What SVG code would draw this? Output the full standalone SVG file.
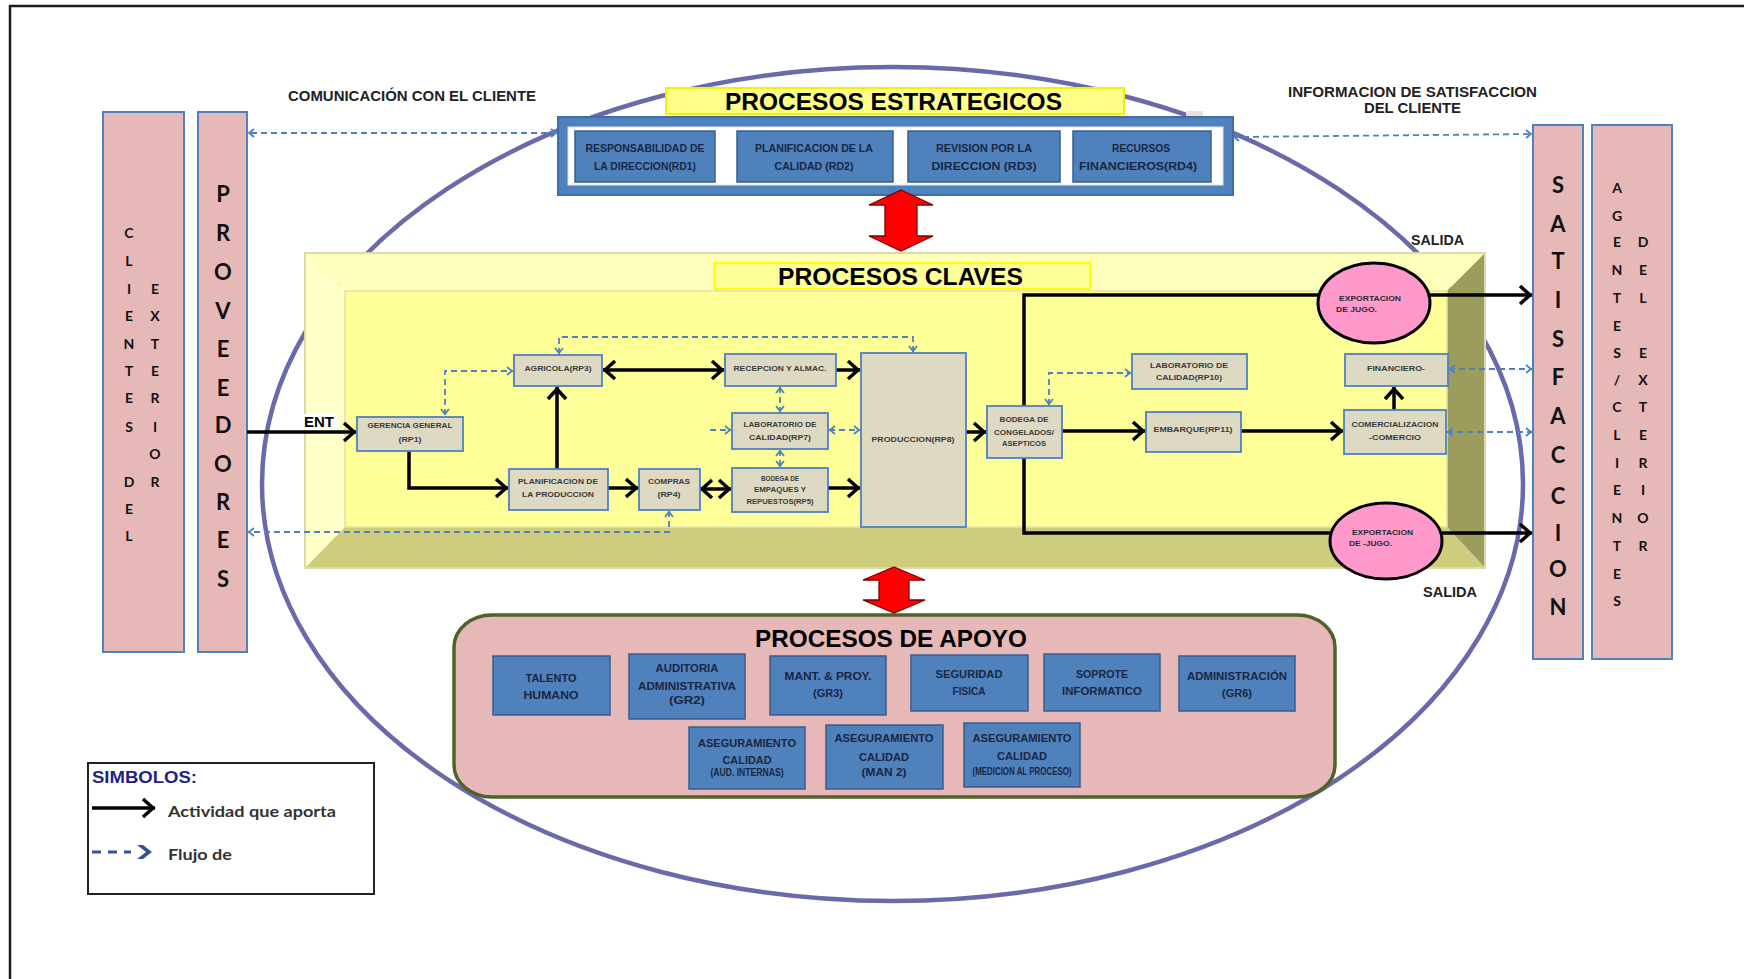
<svg xmlns="http://www.w3.org/2000/svg" width="1744" height="979" viewBox="0 0 1744 979">
<defs>
<style>
.sans{font-family:"Liberation Sans",Arial,sans-serif;font-weight:bold;}
.bt{font-family:"Liberation Sans",Arial,sans-serif;font-weight:bold;font-size:10px;fill:#1B2640;text-anchor:middle;}
.ct{font-family:"Liberation Sans",Arial,sans-serif;font-weight:bold;font-size:8px;fill:#3A3A3A;text-anchor:middle;}
.st{font-family:"Liberation Sans",Arial,sans-serif;font-weight:bold;font-size:6.5px;fill:#3A3A3A;text-anchor:middle;}
.et{font-family:"Liberation Sans",Arial,sans-serif;font-weight:bold;font-size:8px;fill:#2A2A2A;}
.box{fill:#DDD9C3;stroke:#4F81BD;stroke-width:1.8;}
.blue{fill:#4F81BD;stroke:#385D8A;stroke-width:1.5;}
.bar{fill:#E6B9B8;stroke:#4F81BD;stroke-width:2;}
.vl{font-family:Lato,"Liberation Sans",sans-serif;font-weight:bold;fill:#111;text-anchor:middle;}
.solid{fill:none;stroke:#000;stroke-width:3.5;}
.dash{fill:none;stroke:#4F81BD;stroke-width:1.8;stroke-dasharray:6 4;}
.head{font-family:"Liberation Sans",Arial,sans-serif;font-weight:bold;font-size:24px;fill:#000;text-anchor:middle;}
.note{font-family:"Liberation Sans",Arial,sans-serif;font-weight:bold;font-size:14px;fill:#222;}
.exp{fill:#FF99CC;stroke:#000;stroke-width:3;}
.redarrow{fill:#FF0000;stroke:#7A0000;stroke-width:1.3;}
</style>
<marker id="ah" markerUnits="userSpaceOnUse" markerWidth="22" markerHeight="22" refX="16" refY="10" orient="auto-start-reverse" overflow="visible">
  <path d="M4,1 L14,10 L4,19" fill="none" stroke="#000" stroke-width="3.5"/>
</marker>
<marker id="dh" markerUnits="userSpaceOnUse" markerWidth="12" markerHeight="12" refX="8" refY="5" orient="auto-start-reverse" overflow="visible">
  <path d="M2,1 L7,5 L2,9" fill="none" stroke="#4F81BD" stroke-width="1.8" stroke-dasharray="none"/>
</marker>
</defs>

<rect width="1744" height="979" fill="#FFFFFF"/>
<!-- page frame -->
<path d="M10,979 V6 H1744" fill="none" stroke="#1A1A1A" stroke-width="2.5"/>

<!-- surrounding ellipse -->
<ellipse cx="892.5" cy="484" rx="630.5" ry="417" fill="none" stroke="#6A6AAA" stroke-width="4.5"/>
<rect x="1186" y="111" width="17" height="7" fill="#F2DCDB"/>

<!-- free labels -->
<text class="note" x="288" y="101" textLength="248" lengthAdjust="spacingAndGlyphs">COMUNICACIÓN CON EL CLIENTE</text>
<text class="note" x="1288" y="97" textLength="249" lengthAdjust="spacingAndGlyphs">INFORMACION DE SATISFACCION</text>
<text class="note" x="1364" y="113" textLength="97" lengthAdjust="spacingAndGlyphs">DEL CLIENTE</text>
<text class="note" x="1411" y="245" font-size="15" textLength="53" lengthAdjust="spacingAndGlyphs">SALIDA</text>
<text class="note" x="1423" y="597" font-size="15" textLength="54" lengthAdjust="spacingAndGlyphs">SALIDA</text>

<!-- key processes: bevelled panel -->
<g id="procesos-claves">
  <polygon points="305,253 1485,253 1447,291 345,291" fill="#FFFFBC"/>
  <polygon points="305,253 345,291 345,527 305,568" fill="#FFFFC8"/>
  <polygon points="1485,253 1485,568 1447,527 1447,291" fill="#9C9C5C"/>
  <polygon points="305,568 345,527 1447,527 1485,568" fill="#CDCD7D"/>
  <rect x="345" y="291" width="1102" height="236" fill="#FFFF99" stroke="#E2E2A8" stroke-width="1.5"/>
  <rect x="305" y="253" width="1180" height="315" fill="none" stroke="#DADAAA" stroke-width="2"/>
  <rect x="714" y="263" width="376" height="26" fill="#FFFF99" stroke="#FFFF00" stroke-width="2"/>
  <text class="head" x="900.5" y="285" textLength="245" lengthAdjust="spacingAndGlyphs">PROCESOS CLAVES</text>
  <rect x="300" y="414" width="37" height="16" fill="#FFFFFF"/>
  <text class="sans" x="304" y="427" font-size="15" textLength="30" lengthAdjust="spacingAndGlyphs">ENT</text>
</g>

<!-- strategic processes -->
<g id="procesos-estrategicos">
  <rect x="666" y="88" width="458" height="26" fill="#FFFF88" stroke="#F2F200" stroke-width="2"/>
  <text class="head" x="893.5" y="109.5" textLength="337" lengthAdjust="spacingAndGlyphs">PROCESOS ESTRATEGICOS</text>
  <rect x="558" y="117" width="675" height="78" fill="#4F81BD" stroke="#3C6EA8" stroke-width="2"/>
  <rect x="568" y="127" width="655" height="58" fill="#FFFFFF" stroke="#DCE6F2" stroke-width="1"/>
  <g id="rd1"><rect class="blue" x="575" y="131" width="140" height="51"/>
    <text class="bt" x="645" y="151.5" textLength="119" lengthAdjust="spacingAndGlyphs">RESPONSABILIDAD DE</text>
    <text class="bt" x="645" y="169.5" textLength="102" lengthAdjust="spacingAndGlyphs">LA DIRECCION(RD1)</text></g>
  <g id="rd2"><rect class="blue" x="737" y="131" width="156" height="51"/>
    <text class="bt" x="814" y="151.5" textLength="118" lengthAdjust="spacingAndGlyphs">PLANIFICACION DE LA</text>
    <text class="bt" x="814" y="169.5" textLength="79" lengthAdjust="spacingAndGlyphs">CALIDAD (RD2)</text></g>
  <g id="rd3"><rect class="blue" x="908" y="131" width="152" height="51"/>
    <text class="bt" x="984" y="151.5" textLength="96" lengthAdjust="spacingAndGlyphs">REVISION POR LA</text>
    <text class="bt" x="984" y="169.5" textLength="105" lengthAdjust="spacingAndGlyphs">DIRECCION (RD3)</text></g>
  <g id="rd4"><rect class="blue" x="1073" y="131" width="138" height="51"/>
    <text class="bt" x="1141" y="151.5" textLength="58" lengthAdjust="spacingAndGlyphs">RECURSOS</text>
    <text class="bt" x="1138" y="169.5" textLength="118" lengthAdjust="spacingAndGlyphs">FINANCIEROS(RD4)</text></g>
</g>

<!-- support processes -->
<g id="procesos-apoyo">
  <rect x="454" y="615" width="881" height="182" rx="38" ry="32" fill="#E6B9B8" stroke="#4F6228" stroke-width="3.5"/>
  <text class="head" x="891" y="647" textLength="272" lengthAdjust="spacingAndGlyphs">PROCESOS DE APOYO</text>
  <g id="talento"><rect class="blue" x="493" y="656" width="117" height="59"/>
    <text class="bt" x="551" y="681.5" textLength="51" lengthAdjust="spacingAndGlyphs">TALENTO</text>
    <text class="bt" x="551" y="698.5" textLength="55" lengthAdjust="spacingAndGlyphs">HUMANO</text></g>
  <g id="gr2"><rect class="blue" x="629" y="654" width="116" height="65"/>
    <text class="bt" x="687" y="671.5" textLength="63" lengthAdjust="spacingAndGlyphs">AUDITORIA</text>
    <text class="bt" x="687" y="689.5" textLength="98" lengthAdjust="spacingAndGlyphs">ADMINISTRATIVA</text>
    <text class="bt" x="687" y="703.5" textLength="36" lengthAdjust="spacingAndGlyphs">(GR2)</text></g>
  <g id="gr3"><rect class="blue" x="770" y="656" width="116" height="59"/>
    <text class="bt" x="828" y="679.5" textLength="87" lengthAdjust="spacingAndGlyphs">MANT. &amp; PROY.</text>
    <text class="bt" x="828" y="696.5" textLength="30" lengthAdjust="spacingAndGlyphs">(GR3)</text></g>
  <g id="seguridad"><rect class="blue" x="911" y="655" width="117" height="56"/>
    <text class="bt" x="969" y="677.5" textLength="67" lengthAdjust="spacingAndGlyphs">SEGURIDAD</text>
    <text class="bt" x="969" y="694.5" textLength="33" lengthAdjust="spacingAndGlyphs">FISICA</text></g>
  <g id="soporte"><rect class="blue" x="1044" y="654" width="116" height="57"/>
    <text class="bt" x="1102" y="677.5" textLength="52" lengthAdjust="spacingAndGlyphs">SOPROTE</text>
    <text class="bt" x="1102" y="694.5" textLength="80" lengthAdjust="spacingAndGlyphs">INFORMATICO</text></g>
  <g id="gr6"><rect class="blue" x="1179" y="656" width="116" height="55"/>
    <text class="bt" x="1237" y="679.5" textLength="100" lengthAdjust="spacingAndGlyphs">ADMINISTRACIÓN</text>
    <text class="bt" x="1237" y="696.5" textLength="30" lengthAdjust="spacingAndGlyphs">(GR6)</text></g>
  <g id="aseg1"><rect class="blue" x="689" y="727" width="116" height="62"/>
    <text class="bt" x="747" y="746.5" textLength="98" lengthAdjust="spacingAndGlyphs">ASEGURAMIENTO</text>
    <text class="bt" x="747" y="763.5" textLength="49" lengthAdjust="spacingAndGlyphs">CALIDAD</text>
    <text class="bt" x="747" y="775.5" font-size="6" textLength="73" lengthAdjust="spacingAndGlyphs">(AUD. INTERNAS)</text></g>
  <g id="aseg2"><rect class="blue" x="826" y="725" width="117" height="64"/>
    <text class="bt" x="884" y="741.5" textLength="99" lengthAdjust="spacingAndGlyphs">ASEGURAMIENTO</text>
    <text class="bt" x="884" y="760.5" textLength="50" lengthAdjust="spacingAndGlyphs">CALIDAD</text>
    <text class="bt" x="884" y="775.5" textLength="45" lengthAdjust="spacingAndGlyphs">(MAN 2)</text></g>
  <g id="aseg3"><rect class="blue" x="964" y="723" width="116" height="64"/>
    <text class="bt" x="1022" y="741.5" textLength="99" lengthAdjust="spacingAndGlyphs">ASEGURAMIENTO</text>
    <text class="bt" x="1022" y="759.5" textLength="50" lengthAdjust="spacingAndGlyphs">CALIDAD</text>
    <text class="bt" x="1022" y="775" font-size="6" textLength="99" lengthAdjust="spacingAndGlyphs">(MEDICION AL PROCESO)</text></g>
</g>

<!-- big double arrows between levels -->
<polygon class="redarrow" points="901,190 933,205 917,205 917,236 933,236 901,251 869,236 885,236 885,205 869,205"/>
<polygon class="redarrow" points="894,567 925,580 909,580 909,600 925,600 894,613 863,600 879,600 879,580 863,580"/>

<!-- side columns -->
<g id="clientes-exterior">
  <rect class="bar" x="103" y="112" width="81" height="540"/>
  <text class="vl" font-size="14"><tspan x="129" y="238">C</tspan><tspan x="129" y="266">L</tspan><tspan x="129" y="294">I</tspan><tspan x="129" y="321">E</tspan><tspan x="129" y="349">N</tspan><tspan x="129" y="376">T</tspan><tspan x="129" y="403">E</tspan><tspan x="129" y="432">S</tspan><tspan x="129" y="487">D</tspan><tspan x="129" y="514">E</tspan><tspan x="129" y="541">L</tspan></text>
  <text class="vl" font-size="14"><tspan x="155" y="294">E</tspan><tspan x="155" y="321">X</tspan><tspan x="155" y="349">T</tspan><tspan x="155" y="376">E</tspan><tspan x="155" y="403">R</tspan><tspan x="155" y="432">I</tspan><tspan x="155" y="459">O</tspan><tspan x="155" y="487">R</tspan></text>
</g>
<g id="proveedores">
  <rect class="bar" x="198" y="112" width="49" height="540"/>
  <text class="vl" font-size="22"><tspan x="223" y="202">P</tspan><tspan x="223" y="241">R</tspan><tspan x="223" y="280">O</tspan><tspan x="223" y="319">V</tspan><tspan x="223" y="357">E</tspan><tspan x="223" y="396">E</tspan><tspan x="223" y="433">D</tspan><tspan x="223" y="472">O</tspan><tspan x="223" y="510">R</tspan><tspan x="223" y="548">E</tspan><tspan x="223" y="587">S</tspan></text>
</g>
<g id="satisfaccion">
  <rect class="bar" x="1533" y="125" width="50" height="534"/>
  <text class="vl" font-size="22"><tspan x="1558" y="193">S</tspan><tspan x="1558" y="232">A</tspan><tspan x="1558" y="269">T</tspan><tspan x="1558" y="308">I</tspan><tspan x="1558" y="347">S</tspan><tspan x="1558" y="385">F</tspan><tspan x="1558" y="424">A</tspan><tspan x="1558" y="463">C</tspan><tspan x="1558" y="504">C</tspan><tspan x="1558" y="541">I</tspan><tspan x="1558" y="577">O</tspan><tspan x="1558" y="615">N</tspan></text>
</g>
<g id="agentes-clientes">
  <rect class="bar" x="1592" y="125" width="80" height="534"/>
  <text class="vl" font-size="14"><tspan x="1617" y="193">A</tspan><tspan x="1617" y="221">G</tspan><tspan x="1617" y="247">E</tspan><tspan x="1617" y="275">N</tspan><tspan x="1617" y="303">T</tspan><tspan x="1617" y="331">E</tspan><tspan x="1617" y="358">S</tspan><tspan x="1617" y="385">/</tspan><tspan x="1617" y="412">C</tspan><tspan x="1617" y="440">L</tspan><tspan x="1617" y="468">I</tspan><tspan x="1617" y="495">E</tspan><tspan x="1617" y="523">N</tspan><tspan x="1617" y="551">T</tspan><tspan x="1617" y="579">E</tspan><tspan x="1617" y="606">S</tspan></text>
  <text class="vl" font-size="14"><tspan x="1643" y="247">D</tspan><tspan x="1643" y="275">E</tspan><tspan x="1643" y="303">L</tspan><tspan x="1643" y="358">E</tspan><tspan x="1643" y="385">X</tspan><tspan x="1643" y="412">T</tspan><tspan x="1643" y="440">E</tspan><tspan x="1643" y="468">R</tspan><tspan x="1643" y="495">I</tspan><tspan x="1643" y="523">O</tspan><tspan x="1643" y="551">R</tspan></text>
</g>

<!-- connectors -->
<g id="connectors">
  <!-- information flows -->
  <path class="dash" d="M557,133 H248" marker-start="url(#dh)" marker-end="url(#dh)"/>
  <path class="dash" d="M1233,137 L1532,134" marker-start="url(#dh)" marker-end="url(#dh)"/>
  <path class="dash" d="M445,415 V371 H513" marker-start="url(#dh)" marker-end="url(#dh)"/>
  <path class="dash" d="M559,354 V337 H913 V352" marker-start="url(#dh)" marker-end="url(#dh)"/>
  <path class="dash" d="M780,387 V412" marker-start="url(#dh)" marker-end="url(#dh)"/>
  <path class="dash" d="M780,450 V467" marker-start="url(#dh)" marker-end="url(#dh)"/>
  <path class="dash" d="M710,430 H731" marker-end="url(#dh)"/>
  <path class="dash" d="M829,430 H860" marker-start="url(#dh)" marker-end="url(#dh)"/>
  <path class="dash" d="M669,511 V532 H248" marker-start="url(#dh)" marker-end="url(#dh)"/>
  <path class="dash" d="M1049,405 V373 H1131" marker-start="url(#dh)" marker-end="url(#dh)"/>
  <path class="dash" d="M1449,369 H1532" marker-start="url(#dh)" marker-end="url(#dh)"/>
  <path class="dash" d="M1447,432 H1532" marker-start="url(#dh)" marker-end="url(#dh)"/>
  <!-- value-adding activities -->
  <path class="solid" d="M247,432 H356" marker-end="url(#ah)"/>
  <path class="solid" d="M409,451 V488 H508" marker-end="url(#ah)"/>
  <path class="solid" d="M557,469 V387" marker-end="url(#ah)"/>
  <path class="solid" d="M603,370 H724" marker-start="url(#ah)" marker-end="url(#ah)"/>
  <path class="solid" d="M836,370 H860" marker-end="url(#ah)"/>
  <path class="solid" d="M608,488 H638" marker-end="url(#ah)"/>
  <path class="solid" d="M700,489 H731" marker-start="url(#ah)" marker-end="url(#ah)"/>
  <path class="solid" d="M828,488 H860" marker-end="url(#ah)"/>
  <path class="solid" d="M966,432 H986" marker-end="url(#ah)"/>
  <path class="solid" d="M1062,431 H1145" marker-end="url(#ah)"/>
  <path class="solid" d="M1241,431 H1343" marker-end="url(#ah)"/>
  <path class="solid" d="M1394,410 V387" marker-end="url(#ah)"/>
  <path class="solid" d="M1024,406 V295 H1320"/>
  <path class="solid" d="M1430,295 H1532" marker-end="url(#ah)"/>
  <path class="solid" d="M1024,458 V533 H1332"/>
  <path class="solid" d="M1442,533 H1532" marker-end="url(#ah)"/>
</g>

<!-- key process nodes -->
<g id="rp1"><rect class="box" x="357" y="417" width="106" height="34"/>
  <text class="ct" x="410" y="428" textLength="85" lengthAdjust="spacingAndGlyphs">GERENCIA GENERAL</text>
  <text class="ct" x="410" y="442" textLength="23" lengthAdjust="spacingAndGlyphs">(RP1)</text></g>
<g id="rp3"><rect class="box" x="514" y="355" width="88" height="31"/>
  <text class="ct" x="558" y="371" textLength="67" lengthAdjust="spacingAndGlyphs">AGRICOLA(RP3)</text></g>
<g id="recepcion"><rect class="box" x="725" y="354" width="111" height="32"/>
  <text class="ct" x="780" y="371" textLength="93" lengthAdjust="spacingAndGlyphs">RECEPCION Y ALMAC.</text></g>
<g id="planificacion"><rect class="box" x="509" y="469" width="99" height="41"/>
  <text class="ct" x="558" y="484" textLength="80" lengthAdjust="spacingAndGlyphs">PLANIFICACION DE</text>
  <text class="ct" x="558" y="497" textLength="72" lengthAdjust="spacingAndGlyphs">LA PRODUCCION</text></g>
<g id="rp4"><rect class="box" x="639" y="469" width="61" height="41"/>
  <text class="ct" x="669" y="484" textLength="42" lengthAdjust="spacingAndGlyphs">COMPRAS</text>
  <text class="ct" x="669" y="497" textLength="23" lengthAdjust="spacingAndGlyphs">(RP4)</text></g>
<g id="rp7"><rect class="box" x="732" y="413" width="96" height="36"/>
  <text class="st" x="780" y="427" textLength="73" lengthAdjust="spacingAndGlyphs">LABORATORIO DE</text>
  <text class="st" x="780" y="440" textLength="62" lengthAdjust="spacingAndGlyphs">CALIDAD(RP7)</text></g>
<g id="rp5"><rect class="box" x="732" y="468" width="96" height="44"/>
  <text class="st" x="780" y="481" textLength="38" lengthAdjust="spacingAndGlyphs">BODEGA DE</text>
  <text class="st" x="780" y="492" textLength="52" lengthAdjust="spacingAndGlyphs">EMPAQUES Y</text>
  <text class="st" x="780" y="503.5" textLength="67" lengthAdjust="spacingAndGlyphs">REPUESTOS(RP5)</text></g>
<g id="rp8"><rect class="box" x="861" y="353" width="105" height="174"/>
  <text class="ct" x="913" y="442" textLength="83" lengthAdjust="spacingAndGlyphs">PRODUCCION(RP8)</text></g>
<g id="congelados"><rect class="box" x="987" y="406" width="75" height="52"/>
  <text class="st" x="1024" y="421.5" textLength="49" lengthAdjust="spacingAndGlyphs">BODEGA DE</text>
  <text class="st" x="1024" y="434.5" textLength="60" lengthAdjust="spacingAndGlyphs">CONGELADOS/</text>
  <text class="st" x="1024" y="445.5" textLength="44" lengthAdjust="spacingAndGlyphs">ASEPTICOS</text></g>
<g id="rp10"><rect class="box" x="1132" y="354" width="115" height="35"/>
  <text class="ct" x="1189" y="368" textLength="78" lengthAdjust="spacingAndGlyphs">LABORATORIO DE</text>
  <text class="ct" x="1189" y="380" textLength="66" lengthAdjust="spacingAndGlyphs">CALIDAD(RP10)</text></g>
<g id="rp11"><rect class="box" x="1146" y="412" width="95" height="40"/>
  <text class="ct" x="1193" y="432" textLength="79" lengthAdjust="spacingAndGlyphs">EMBARQUE(RP11)</text></g>
<g id="comercializacion"><rect class="box" x="1344" y="410" width="102" height="44"/>
  <text class="ct" x="1395" y="427" textLength="87" lengthAdjust="spacingAndGlyphs">COMERCIALIZACION</text>
  <text class="ct" x="1395" y="440" textLength="52" lengthAdjust="spacingAndGlyphs">-COMERCIO</text></g>
<g id="financiero"><rect class="box" x="1345" y="354" width="103" height="32"/>
  <text class="ct" x="1396" y="371" textLength="58" lengthAdjust="spacingAndGlyphs">FINANCIERO-</text></g>
<g id="exportacion-1"><ellipse class="exp" cx="1374" cy="303" rx="56" ry="40"/>
  <text class="et" x="1339" y="301" textLength="62" lengthAdjust="spacingAndGlyphs">EXPORTACION</text>
  <text class="et" x="1336" y="312" textLength="41" lengthAdjust="spacingAndGlyphs">DE JUGO.</text></g>
<g id="exportacion-2"><ellipse class="exp" cx="1386" cy="541" rx="56" ry="38"/>
  <text class="et" x="1352" y="535" textLength="61" lengthAdjust="spacingAndGlyphs">EXPORTACION</text>
  <text class="et" x="1349" y="546" textLength="43" lengthAdjust="spacingAndGlyphs">DE -JUGO.</text></g>

<!-- legend -->
<g id="simbolos">
  <rect x="88" y="763" width="286" height="131" fill="#FFFFFF" stroke="#222" stroke-width="2"/>
  <text class="sans" x="92" y="783" font-size="16" fill="#1F1F8C" textLength="105" lengthAdjust="spacingAndGlyphs">SIMBOLOS:</text>
  <path class="solid" d="M92,808 H155" stroke-width="3" marker-end="url(#ah)"/>
  <text x="168" y="817" font-family="Lato,'Liberation Sans',sans-serif" font-weight="bold" font-size="16" fill="#333" textLength="168" lengthAdjust="spacingAndGlyphs">Actividad que aporta</text>
  <path d="M92,852 H131" fill="none" stroke="#2F5597" stroke-width="3" stroke-dasharray="9 7"/>
  <polygon points="137,845 143,845 152,852 143,859 137,859 146,852" fill="#2F5597"/>
  <text x="168" y="860" font-family="Lato,'Liberation Sans',sans-serif" font-weight="bold" font-size="16" fill="#333" textLength="64" lengthAdjust="spacingAndGlyphs">Flujo de</text>
</g>
</svg>
